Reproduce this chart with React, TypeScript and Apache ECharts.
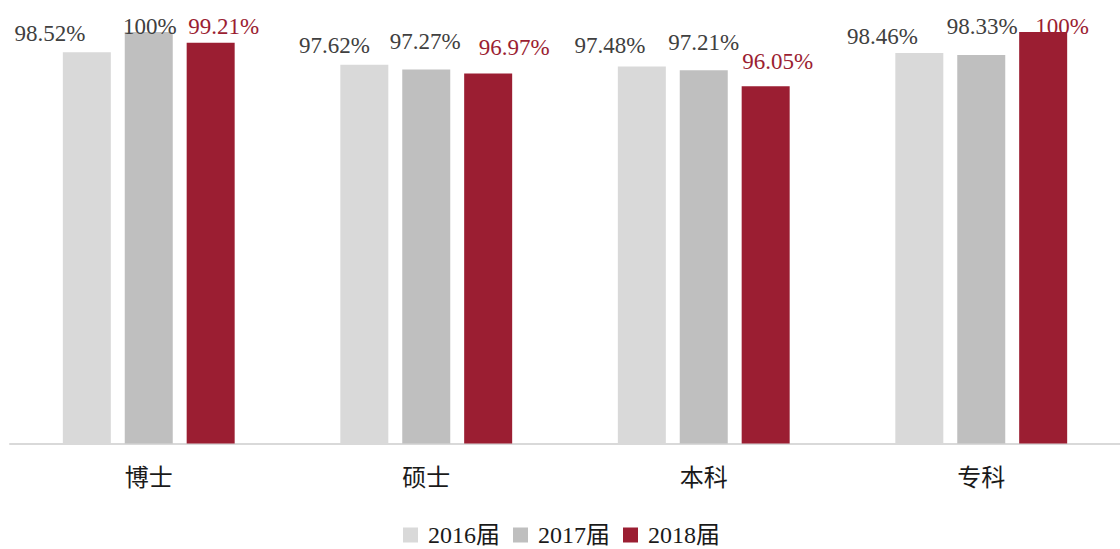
import React, { useEffect, useRef } from "react";
import * as echarts from "echarts";

const categories = ["博士", "硕士", "本科", "专科"];
const seriesNames = ["2016届", "2017届", "2018届"];
const values2016 = [98.52, 97.62, 97.48, 98.46];
const values2017 = [100, 97.27, 97.21, 98.33];
const values2018 = [99.21, 96.97, 96.05, 100];

const colors = ["#D9D9D9", "#BFBFBF", "#9B1E32"];
const labelColors = ["#404040", "#404040", "#9B1E32"];
// label offsets [dx, dy] per series per category (style only)
const labelOffsets = [
  [[-37, -2], [-30, -3], [-32, -5], [-37, 0]],
  [[1, 11], [-1, -11], [0, -11], [1, -12]],
  [[13, 0], [26, -10], [12, -8], [19, 11]],
];

const SERIF = "'Liberation Serif', 'Noto Sans CJK SC', serif";

export default function App() {
  const ref = useRef<HTMLDivElement>(null);
  useEffect(() => {
    if (!ref.current) return;
    const chart = echarts.init(ref.current, undefined, { renderer: "svg" });
    const all = [values2016, values2017, values2018];
    chart.setOption({
      animation: false,
      backgroundColor: "#ffffff",
      grid: { left: 10, top: 32, width: 1115, bottom: 105.5, containLabel: false },
      legend: {
        data: seriesNames,
        left: 398,
        top: 517,
        itemWidth: 15,
        itemHeight: 15,
        itemGap: 13,
        icon: "rect",
        textStyle: { fontFamily: SERIF, fontSize: 24, lineHeight: 26, color: "#1a1a1a", padding: [0, 0, 0, 5] },
      },
      xAxis: {
        type: "category",
        data: categories,
        axisLine: { show: true, lineStyle: { color: "#D9D9D9", width: 2 } },
        axisTick: { show: false },
        axisLabel: {
          fontFamily: "'Noto Sans CJK SC', serif",
          fontSize: 24,
          color: "#1a1a1a",
          margin: 20,
        },
      },
      yAxis: {
        type: "value",
        min: 70,
        max: 100,
        show: false,
        splitLine: { show: false },
      },
      series: all.map((vals, si) => ({
        name: seriesNames[si],
        type: "bar",
        barWidth: 48,
        barGap: "29%",
        itemStyle: { color: colors[si] },
        data: vals.map((v, ci) => ({
          value: v,
          label: {
            show: true,
            position: "top",
            offset: labelOffsets[si][ci],
            formatter: `${v}%`,
            fontFamily: SERIF,
            fontSize: 23,
            color: labelColors[si],
          },
        })),
      })),
    });
    return () => chart.dispose();
  }, []);
  return (
    <div
      ref={ref}
      style={{ position: "fixed", left: 0, top: 0, width: 1120, height: 549 }}
    />
  );
}
